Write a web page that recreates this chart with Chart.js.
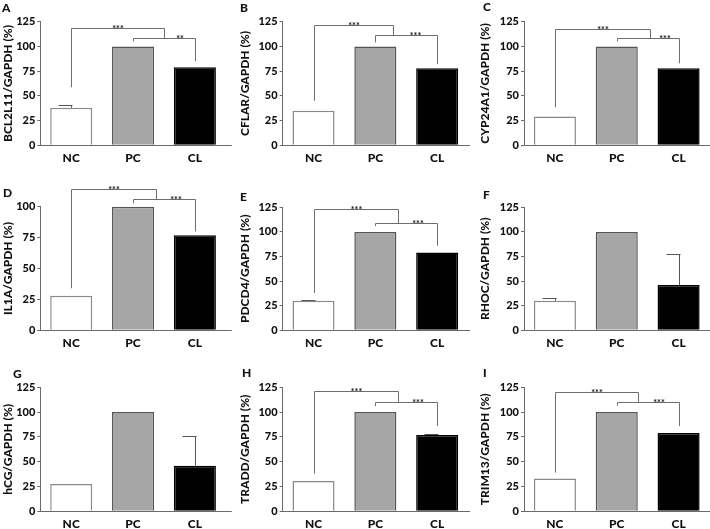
<!DOCTYPE html>
<html><head><meta charset="utf-8">
<script src="https://cdn.jsdelivr.net/npm/chart.js@4/dist/chart.umd.min.js"></script>
<style>
html,body{margin:0;padding:0;background:#fff;width:710px;height:529px;overflow:hidden;}
#wrap{position:relative;width:710px;height:529px;}
#wrap canvas{position:absolute;}
</style></head><body><div id="wrap"></div>
<script>
// ---- data ----
const categories = ['NC', 'PC', 'CL'];
const panelLetters = ['A','B','C','D','E','F','G','H','I'];
const genes = ['BCL2L11','CFLAR','CYP24A1','IL1A','PDCD4','RHOC','hCG','TRADD','TRIM13'];
const yTicks125 = [0, 25, 50, 75, 100, 125];
const yTicks100 = [0, 25, 50, 75, 100];
const yMaxes = [125, 125, 125, 100, 125, 125, 125, 125, 125];

const valuesA = [38, 100, 79];   const errorsA = [3, 0, 0];
const valuesB = [35, 100, 78];   const errorsB = [0, 0, 0];
const valuesC = [29, 100, 78];   const errorsC = [0, 0, 0];
const valuesD = [28, 100, 77];   const errorsD = [0, 0, 0];
const valuesE = [30, 100, 79];   const errorsE = [1, 0, 0];
const valuesF = [30, 100, 46];   const errorsF = [3, 0, 32];
const valuesG = [27.5, 100, 46]; const errorsG = [0, 0, 30];
const valuesH = [30.5, 100, 77]; const errorsH = [0, 0, 1];
const valuesI = [33, 100, 79];   const errorsI = [0, 0, 0];

// significance brackets: NC vs (PC,CL) [left leg bottom, top, right end (category index)]
const bigBracketA = [58.7, 119, 1.5];  const smallBracketA = [105, 109, 85];  const starsA = ['***', '**'];
const bigBracketB = [45, 122, 1.29];   const smallBracketB = [104, 111.5, 82]; const starsB = ['***', '***'];
const bigBracketC = [38.4, 118, 1.53]; const smallBracketC = [105, 109, 83];  const starsC = ['***', '***'];
const bigBracketD = [34, 114.3, 1.37]; const smallBracketD = [102.7, 106, 80]; const starsD = ['***', '***'];
const bigBracketE = [38, 123, 1.37];   const smallBracketE = [106, 109.3, 86]; const starsE = ['***', '***'];
const bigBracketH = [38, 121.6, 1.37]; const smallBracketH = [106, 110.3, 86]; const starsH = ['***', '***'];
const bigBracketI = [39, 120.5, 1.34]; const smallBracketI = [106.5, 110, 86]; const starsI = ['***', '***'];

const allValues = [valuesA, valuesB, valuesC, valuesD, valuesE, valuesF, valuesG, valuesH, valuesI];
const allErrors = [errorsA, errorsB, errorsC, errorsD, errorsE, errorsF, errorsG, errorsH, errorsI];
const allBig = [bigBracketA, bigBracketB, bigBracketC, bigBracketD, bigBracketE, null, null, bigBracketH, bigBracketI];
const allSmall = [smallBracketA, smallBracketB, smallBracketC, smallBracketD, smallBracketE, null, null, smallBracketH, smallBracketI];
const allStars = [starsA, starsB, starsC, starsD, starsE, null, null, starsH, starsI];

// ---- layout / style ----
const FONT = "Lato, 'Open Sans', sans-serif";
const TEXT = '#111111';
const AXIS = '#6a6a6a';
const LINE = '#6e6e6e';
const barFill = ['#ffffff', '#a6a6a6', '#000000'];
const barBorder = ['#8a8a8a', '#555555', '#000000'];
const colLeft = [0, 235, 470];
const rowTop = [0, 175, 350];
const rowH = [175, 175, 179];
const chartLeftCol = [40.3, 47.6, 54];
const chartTopRow = [21.7, 32.3, 37.3];
const chartBottomRow = [145.3, 155.3, 161.3];
const axisExtCol = [6, 2, 2];
const titlePadCol = [1, 3, 7.5];
const letterPos = [[2,2],[5,2],[13,1],[3,12],[5,16],[13,14],[13,18],[7,17],[13,17]];
const CW = 240, PLOT_W = 185.5;

const overlay = {
  id: 'overlay',
  afterDatasetsDraw(chart, args, o) {
    const ctx = chart.ctx, xs = chart.scales.x, ys = chart.scales.y, ca = chart.chartArea;
    const i = o.idx;
    const x0 = xs.getPixelForValue(0), step = xs.getPixelForValue(1) - x0;
    const xp = v => x0 + v * step;
    const yp = v => ys.getPixelForValue(v);
    ctx.save();
    ctx.lineWidth = 1;
    // x axis line
    ctx.strokeStyle = AXIS;
    ctx.beginPath();
    ctx.moveTo(ca.left, Math.round(ca.bottom) + 0.5);
    ctx.lineTo(ca.right + axisExtCol[i % 3], Math.round(ca.bottom) + 0.5);
    ctx.stroke();
    // error bars
    ctx.strokeStyle = '#555';
    allErrors[i].forEach((e, k) => {
      if (!e) return;
      const cx = Math.round(xp(k)) + 0.5;
      const yb = yp(allValues[i][k]);
      const yt = Math.round(yp(allValues[i][k] + e)) + 0.5;
      ctx.beginPath();
      ctx.moveTo(cx, yb); ctx.lineTo(cx, yt);
      ctx.moveTo(cx - 13, yt); ctx.lineTo(cx + 1, yt);
      ctx.stroke();
    });
    // brackets
    const big = allBig[i], small = allSmall[i];
    if (big && small) {
      ctx.strokeStyle = LINE;
      const r = v => Math.round(v) + 0.5;
      const bx1 = r(xp(0)), bx2 = r(xp(big[2]));
      const sx1 = r(xp(1)), sx2 = r(xp(2));
      const bTop = r(yp(big[1])), sTop = r(yp(small[1]));
      ctx.beginPath();
      ctx.moveTo(bx1, yp(big[0])); ctx.lineTo(bx1, bTop); ctx.lineTo(bx2, bTop); ctx.lineTo(bx2, sTop);
      ctx.moveTo(sx1, yp(small[0])); ctx.lineTo(sx1, sTop); ctx.lineTo(sx2, sTop); ctx.lineTo(sx2, yp(small[2]));
      ctx.stroke();
      ctx.fillStyle = TEXT;
      ctx.font = "bold 9px " + FONT;
      ctx.textAlign = 'center';
      ctx.textBaseline = 'alphabetic';
      ctx.fillText(allStars[i][0], (bx1 + bx2) / 2, bTop + 3);
      ctx.fillText(allStars[i][1], (bx2 + sx2) / 2, sTop + 3);
    }
    // panel letter
    ctx.fillStyle = TEXT;
    ctx.font = "900 12px " + FONT;
    ctx.textAlign = 'left';
    ctx.textBaseline = 'top';
    ctx.fillText(panelLetters[i], letterPos[i][0], letterPos[i][1]);
    ctx.restore();
  }
};

const wrap = document.getElementById('wrap');
for (let i = 0; i < 9; i++) {
  const col = i % 3, row = Math.floor(i / 3);
  const cv = document.createElement('canvas');
  const H = rowH[row];
  cv.width = CW; cv.height = H;
  cv.style.left = colLeft[col] + 'px';
  cv.style.top = rowTop[row] + 'px';
  cv.style.width = CW + 'px'; cv.style.height = H + 'px';
  wrap.appendChild(cv);
  const chartLeft = chartLeftCol[col];
  const chartTop = (i === 3) ? 31.7 : chartTopRow[row];
  const chartBottom = chartBottomRow[row];
  const tickVals = yMaxes[i] === 100 ? yTicks100 : yTicks125;
  new Chart(cv, {
    type: 'bar',
    data: {
      labels: categories,
      datasets: [{
        data: allValues[i],
        backgroundColor: barFill,
        borderColor: barBorder,
        borderWidth: 1.5,
        borderSkipped: 'start',
        categoryPercentage: 1,
        barPercentage: 0.68
      }]
    },
    options: {
      responsive: false,
      animation: false,
      devicePixelRatio: 1,
      layout: { padding: { top: chartTop, left: 0, right: CW - chartLeft - PLOT_W, bottom: 0 } },
      plugins: { legend: { display: false }, tooltip: { enabled: false }, overlay: { idx: i } },
      scales: {
        x: {
          grid: { display: false, drawTicks: false, tickLength: 0 },
          border: { display: false },
          ticks: { color: TEXT, font: { family: FONT, size: 12, weight: '900' }, padding: 6 },
          afterFit(s) { s.height = H - chartBottom; }
        },
        y: {
          min: 0, max: yMaxes[i],
          afterBuildTicks(s) { s.ticks = tickVals.map(v => ({ value: v })); },
          grid: { display: true, drawOnChartArea: false, drawTicks: true, tickLength: 3, color: AXIS },
          border: { display: true, color: AXIS, width: 1 },
          ticks: { color: TEXT, font: { family: FONT, size: 11, weight: '900' }, padding: 2 },
          title: {
            display: true,
            text: genes[i] + '/GAPDH (%)',
            color: TEXT,
            font: { family: FONT, size: 12, weight: '900' },
            padding: { top: titlePadCol[col], bottom: 0 }
          },
          afterFit(s) { s.width = chartLeft; }
        }
      }
    },
    plugins: [overlay]
  });
}
</script>
</body></html>
